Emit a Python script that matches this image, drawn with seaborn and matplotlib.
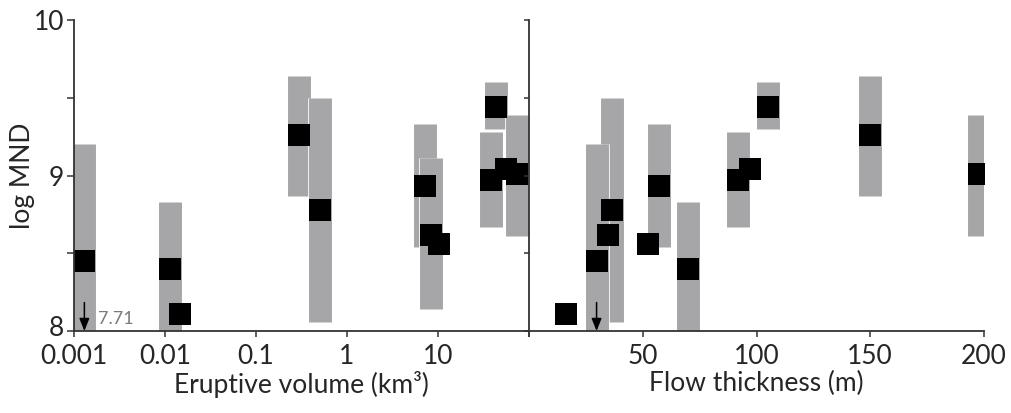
import numpy as np
import pandas as pd
import matplotlib
matplotlib.use("Agg")
import matplotlib.pyplot as plt
import matplotlib.patheffects as pe
from matplotlib.ticker import NullLocator
from matplotlib.transforms import ScaledTranslation
import seaborn as sns

# ---- data ----
volume_km3 = [0.0013, 0.0114, 0.0145, 0.30, 0.51, 7.2, 8.4, 10.3, 43.0, 38.5, 55.6, 74.6]
thickness_m = [29.7, 70.0, 16.3, 150.0, 36.7, 57.2, 34.8, 52.3, 105.0, 92.0, 97.0, 198.0]
log_mnd = [8.45, 8.40, 8.11, 9.26, 8.78, 8.93, 8.62, 8.56, 9.44, 8.97, 9.04, 9.01]
range_low = [7.71, 7.95, np.nan, 8.87, 8.06, 8.54, 8.14, np.nan, 9.30, 8.67, np.nan, 8.61]
range_high = [9.20, 8.83, np.nan, 9.64, 9.50, 9.33, 9.11, np.nan, 9.60, 9.28, np.nan, 9.39]
lower_bound_label = "7.71"

vol_ticks = [0.001, 0.01, 0.1, 1, 10, 100]
vol_labels = ["0.001", "0.01", "0.1", "1", "10", ""]
thk_ticks = [0, 50, 100, 150, 200]
thk_labels = ["", "50", "100", "150", "200"]
y_ticks = [8, 8.5, 9, 9.5, 10]
y_labels = ["8", "", "9", "", "10"]

df = pd.DataFrame({"volume": volume_km3, "thickness": thickness_m, "mnd": log_mnd,
                   "lo": range_low, "hi": range_high})

sns.set_style("ticks")
plt.rcParams["font.family"] = ["Lato", "DejaVu Sans"]

GRAY = "#a6a6a8"
AX = "#333333"
FS = 19

fig = plt.figure(figsize=(10.11, 4.13), dpi=100)
axL = fig.add_axes([74 / 1011, 82 / 413, 455 / 1011, 311 / 413])
axR = fig.add_axes([529 / 1011, 82 / 413, 455 / 1011, 311 / 413])

bars = df.dropna(subset=["lo", "hi"]).copy()
bars["len"] = bars["hi"] - bars["lo"]
bars = bars.sort_values("len")

for ax, xcol in [(axL, "volume"), (axR, "thickness")]:
    for _, r in bars.iterrows():
        ax.plot([r[xcol], r[xcol]], [r["lo"], r["hi"]], color=GRAY, lw=16.5,
                solid_capstyle="butt", zorder=2,
                path_effects=[pe.Stroke(linewidth=17.7, foreground="white"), pe.Normal()])
    sns.scatterplot(data=df, x=xcol, y="mnd", ax=ax, marker="s", s=240,
                    color="black", linewidth=0, zorder=3, legend=False)
    # lower-bound arrow for the first flow
    ax.annotate("", xy=(df[xcol][0], 8.0), xytext=(0, 20.5), textcoords="offset points",
                xycoords="data",
                arrowprops=dict(arrowstyle="-|>,head_length=0.75,head_width=0.3",
                                color="black", lw=1.1, shrinkA=0, shrinkB=0),
                zorder=4, annotation_clip=False)
    ax.set_ylim(8, 10)
    for s in ["top", "right"]:
        ax.spines[s].set_visible(False)
    for s in ["left", "bottom"]:
        ax.spines[s].set_color(AX)
        ax.spines[s].set_linewidth(1.3)
        ax.spines[s].set_zorder(5)
    ax.set_ylabel("")
    ax.set_xlabel("")

axL.annotate(lower_bound_label, xy=(df["volume"][0], 8.0), xytext=(10, 3),
             textcoords="offset points", fontsize=13, color="#7a7a7a", ha="left", va="bottom")

# left axes
axL.set_xscale("log")
axL.set_xlim(1e-3, 1e2)
axL.set_xticks(vol_ticks)
axL.set_xticklabels(vol_labels)
axL.xaxis.set_minor_locator(NullLocator())
axL.set_yticks(y_ticks)
axL.set_yticklabels(y_labels)
axL.tick_params(axis="y", direction="out", length=5, width=1.1, color=AX, labelsize=FS, pad=2)
axL.tick_params(axis="x", direction="out", length=4.5, width=1.1, color=AX, labelsize=FS, pad=5)
axL.set_ylabel("log MND", fontsize=FS)
axL.yaxis.set_label_coords(-0.086, 0.5)
axL.set_xlabel("Eruptive volume (km³)", fontsize=FS, labelpad=1)
# nudge the bottom "8" label up a little so it clears "0.001"
lab8 = axL.get_yticklabels()[0]
lab8.set_transform(lab8.get_transform() + ScaledTranslation(0, 3.5 / 72, fig.dpi_scale_trans))

# right axes
axR.set_xlim(0, 200)
axR.set_xticks(thk_ticks)
axR.set_xticklabels(thk_labels)
axR.set_yticks(y_ticks)
axR.set_yticklabels([""] * len(y_ticks))
axR.tick_params(axis="y", direction="out", length=3.6, width=1.1, color=AX, labelleft=False)
axR.tick_params(axis="x", direction="out", length=4.5, width=1.1, color=AX, labelsize=FS, pad=5)
axR.set_xlabel("Flow thickness (m)", fontsize=FS, labelpad=1)

fig.savefig("out.png", dpi=100, facecolor="white")
